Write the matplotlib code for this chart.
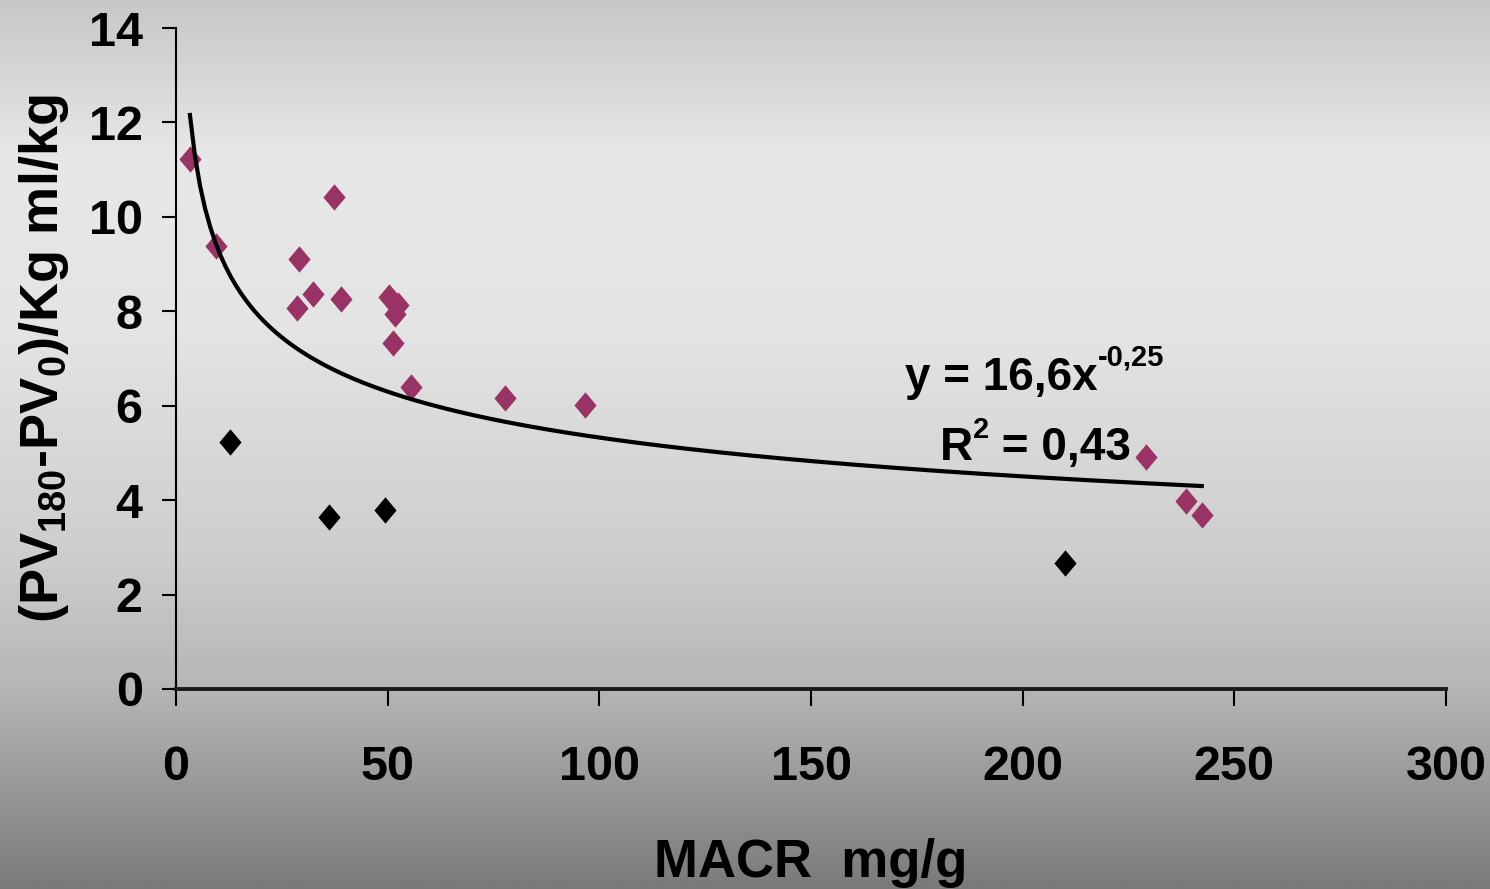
import numpy as np
import matplotlib
matplotlib.use('Agg')
import matplotlib.pyplot as plt
from matplotlib.colors import LinearSegmentedColormap
from matplotlib.path import Path

NARROW = ['Liberation Sans Narrow', 'Liberation Sans', 'DejaVu Sans']
WIDE = ['Liberation Sans', 'DejaVu Sans']

# main group (plum diamonds)
macr_main = [3.3, 9.5, 29.0, 28.5, 32.3, 37.4, 38.9, 50.3, 52.5, 51.7, 51.2,
             55.4, 77.7, 96.6, 229.1, 238.5, 242.3]
pv_main = [11.22, 9.39, 9.10, 8.06, 8.36, 10.43, 8.26, 8.31, 8.13, 7.94, 7.32,
           6.40, 6.16, 6.02, 4.92, 3.99, 3.69]

# outliers (black diamonds)
macr_out = [12.8, 36.1, 49.4, 210.0]
pv_out = [5.24, 3.64, 3.79, 2.66]

# power trendline y = a * x^b (unrounded fit of the main group)
TREND_A = 16.23
TREND_B = -0.242

x_ticks = [0, 50, 100, 150, 200, 250, 300]
y_ticks = [0, 2, 4, 6, 8, 10, 12, 14]

PLUM = '#993366'

plt.rcParams['font.family'] = NARROW
plt.rcParams['font.weight'] = 'bold'
plt.rcParams['axes.labelweight'] = 'bold'

fig = plt.figure(figsize=(14.9, 8.89), dpi=100)

# grey gradient background
bg = fig.add_axes([0, 0, 1, 1], zorder=-10)
stops = [(0.0, '#c8c8c8'), (0.18, '#e8e8e8'), (0.37, '#e4e4e4'),
         (0.63, '#cdcdcd'), (0.78, '#b5b5b5'), (1.0, '#7a7a7a')]
cmap = LinearSegmentedColormap.from_list('bg', stops)
bg.imshow(np.linspace(0, 1, 600).reshape(-1, 1), aspect='auto', cmap=cmap,
          extent=[0, 1, 0, 1])
bg.axis('off')

ax = fig.add_axes([0.1181, 0.2250, 0.8524, 0.7435])
ax.set_facecolor('none')

diamond = Path([(0, 1), (0.84, 0), (0, -1), (-0.84, 0), (0, 1)], closed=True)
ax.scatter(macr_main, pv_main, marker=diamond, s=19 ** 2, color=PLUM,
           linewidths=0, zorder=3)
ax.scatter(macr_out, pv_out, marker=diamond, s=19 ** 2, color='black',
           linewidths=0, zorder=3)

xt = np.linspace(min(macr_main), max(macr_main), 200)
ax.plot(xt, TREND_A * xt ** TREND_B, color='black', lw=3, zorder=4)

ax.set_xlim(0, 300)
ax.set_ylim(0, 14)
ax.set_xticks(x_ticks)
ax.set_yticks(y_ticks)
ax.spines['top'].set_visible(False)
ax.spines['right'].set_visible(False)
ax.spines['left'].set_linewidth(1.5)
ax.spines['bottom'].set_linewidth(2.8)
ax.spines['bottom'].set_color('#1a1a1a')
ax.tick_params(axis='both', direction='out', width=1.5, color='black',
               labelsize=35)
ax.tick_params(axis='x', length=12, pad=28)
ax.tick_params(axis='y', length=10, pad=14)

ax.set_xlabel('MACR  mg/g', fontsize=38, fontweight='bold', va='baseline')
ax.xaxis.set_label_coords(0.5, -0.2844)
ax.set_ylabel('(PV$_{\\mathregular{180}}$-PV$_{\\mathregular{0}}$)/Kg ml/kg',
              fontsize=39, fontweight='bold', family=WIDE, va='center')
ax.yaxis.set_label_coords(-0.104, 0.5)

# trendline equation
t1 = ax.text(172.2, 6.33, 'y = 16,6x', fontsize=33, va='baseline', ha='left')
ax.annotate('-0,25', xy=(1.0, 6.86), xycoords=(t1, 'data'), fontsize=21,
            va='baseline', ha='left')
tr = ax.text(180.5, 4.85, 'R', fontsize=33, va='baseline', ha='left')
t2 = ax.annotate('2', xy=(1.0, 5.32), xycoords=(tr, 'data'), fontsize=21,
                 va='baseline', ha='left')
ax.annotate(' = 0,43', xy=(1.0, 4.85), xycoords=(t2, 'data'), fontsize=33,
            va='baseline', ha='left')

fig.savefig('out.png', dpi=100)
